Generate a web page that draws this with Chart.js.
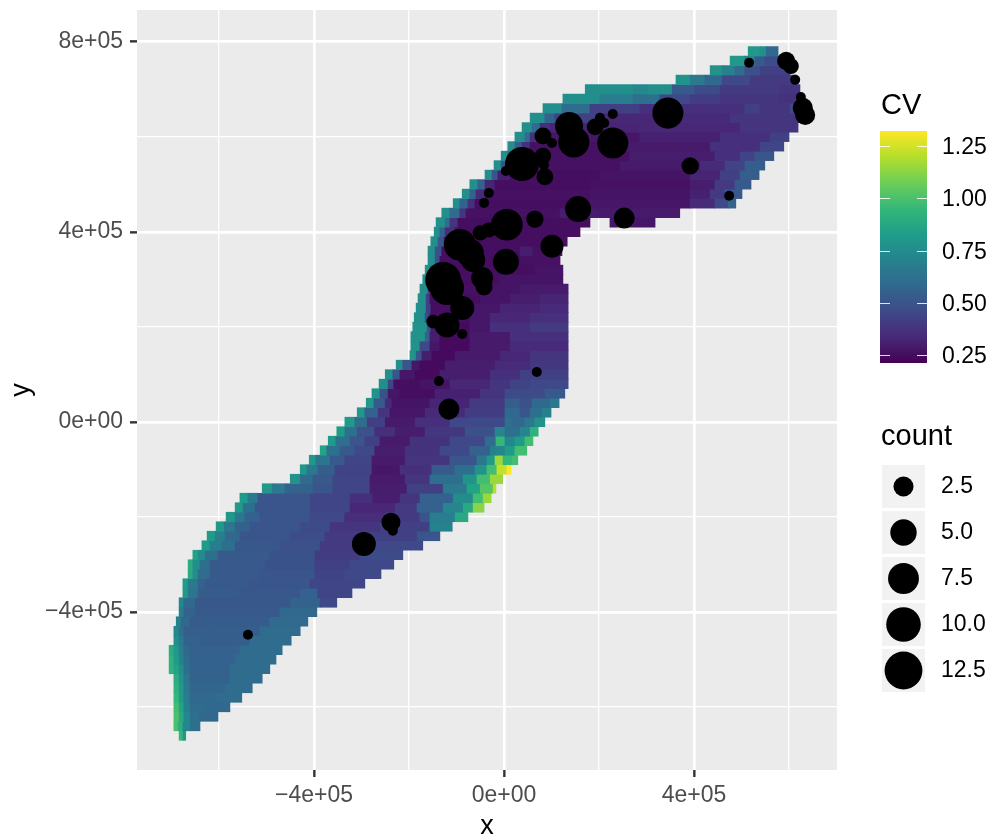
<!DOCTYPE html>
<html>
<head>
<meta charset="utf-8">
<title>CV map</title>
<script src="https://cdn.jsdelivr.net/npm/chart.js@4"></script>
<style>
  html, body { margin: 0; background: #fff; }
  canvas { display: block; }
</style>
</head>
<body>
<canvas id="mychart" width="990" height="840"></canvas>
<script>
// all x / y values are in thousands
const xMajor = [-400, 0, 400]
const xMinor = [-600, -200, 200, 600]
const xLabels = ['\u22124e+05', '0e+00', '4e+05']
const yMajor = [-400, 0, 400, 800]
const yMinor = [-600, -200, 200, 600]
const yLabels = ['\u22124e+05', '0e+00', '4e+05', '8e+05']

// raster rows, one entry per row: span edges and the CV of each span (null = gap)
const rowY = [-660,-640,-620,-600,-580,-560,-540,-520,-500,-480,-460,-440,-420,-400,-380,-360,-340,-320,-300,-280,-260,-240,-220,-200,-180,-160,-140,-120,-100,-80,-60,-40,-20,0,20,40,60,80,100,120,140,160,180,200,220,240,260,280,300,320,340,360,380,400,420,440,460,480,500,520,540,560,580,600,620,640,660,680,700,720,740,760,780]
const rowEdges = [
  [-684,-676,-670],
  [-695,-686,-676,-661,-640],
  [-695,-684,-674,-661,-640,-602],
  [-695,-684,-674,-661,-629,-577],
  [-695,-684,-674,-661,-608,-552],
  [-695,-684,-674,-661,-587,-530],
  [-695,-684,-674,-661,-577,-509],
  [-705,-695,-684,-674,-661,-577,-493],
  [-705,-695,-684,-674,-661,-566,-480],
  [-705,-695,-684,-674,-661,-556,-467],
  [-695,-684,-674,-640,-535,-448],
  [-695,-684,-674,-619,-514,-429],
  [-690,-680,-661,-493,-413],
  [-684,-674,-650,-472,-394],
  [-684,-674,-650,-450,-387,-352],
  [-676,-665,-644,-556,-429,-392,-320],
  [-676,-665,-644,-629,-535,-408,-293],
  [-665,-655,-644,-619,-514,-398,-335,-259],
  [-665,-655,-640,-619,-503,-398,-324,-232],
  [-655,-644,-629,-602,-493,-398,-303,-213],
  [-636,-619,-594,-566,-472,-387,-282,-171],
  [-625,-608,-587,-556,-450,-377,-293,-183,-135],
  [-606,-589,-566,-535,-429,-366,-261,-156,-109],
  [-585,-566,-545,-514,-408,-335,-250,-177,-156,-103,-76],
  [-566,-549,-524,-408,-324,-229,-183,-128,-86,-65,-42],
  [-556,-539,-518,-408,-324,-276,-219,-177,-107,-65,-44,-27],
  [-509,-488,-461,-402,-360,-282,-204,-128,-78,-50,-23,-17],
  [-450,-429,-402,-360,-282,-208,-156,-86,-57,-29,0],
  [-429,-415,-392,-356,-278,-219,-152,-103,-61,-36,-15,6,15],
  [-410,-396,-366,-335,-278,-208,-114,-57,-36,-19,-2,17,29],
  [-387,-373,-345,-314,-272,-208,-135,-72,-29,-15,2,23,48],
  [-370,-354,-324,-293,-261,-198,-114,-40,-17,2,23,44,61],
  [-352,-335,-309,-272,-229,-166,-82,-19,2,34,55,72],
  [-335,-314,-288,-250,-187,-114,2,17,44,65,86],
  [-309,-293,-265,-240,-166,-82,2,34,55,80,99],
  [-290,-274,-250,-236,-156,-72,2,34,59,97,116],
  [-278,-261,-244,-219,-145,-50,2,86,128],
  [-263,-244,-232,-177,-114,-29,13,55,135],
  [-250,-234,-219,-187,-135,-29,34,135],
  [-227,-213,-194,-177,-124,-19,55,135],
  [-198,-185,-173,-152,-103,-8,55,135],
  [-196,-177,-156,-135,-72,13,135],
  [-196,-166,-156,-135,-72,13,135],
  [-192,-162,-154,-141,-72,-29,55,135],
  [-189,-166,-156,-72,-29,55,135],
  [-185,-164,-154,-61,-8,76,135],
  [-181,-164,-156,-50,13,76,135],
  [-177,-160,-154,-50,34,135],
  [-171,-158,-152,-8,124],
  [-166,-154,-145,65,124],
  [-160,-145,-135,34,118],
  [-160,-145,-131,34,61,122],
  [-154,-139,-126,133],
  [-147,-135,-124,-103,160],
  [-143,-124,-114,-97,181,223,318],
  [-131,-114,-93,-80,118,202,370],
  [-107,-93,-76,-61,181,392,444,472,488],
  [-88,-72,-59,-40,181,392,434,465,501],
  [-72,-55,-40,-19,181,392,444,486,520],
  [-40,-25,-13,13,202,392,455,497,537],
  [-21,-6,4,34,244,413,465,507,549],
  [-6,8,21,55,265,444,497,528,568],
  [8,23,38,55,244,434,539,589],
  [23,44,55,76,286,455,560,600],
  [38,59,76,97,286,497,619],
  [55,86,107,202,328,476,623],
  [82,122,181,286,455,507,539,602,623],
  [124,202,272,328,392,455,581,623],
  [171,272,303,354,402,455,581,623],
  [362,392,423,459,518,615],
  [434,459,486,507,539,602],
  [476,507,528,549,587],
  [514,539,552,577]
]
const rowCV = [
  [.95,.8],
  [1,.9,.72,.62],
  [1,.88,.72,.62,.58],
  [.98,.85,.7,.6,.58],
  [.95,.82,.68,.58,.6],
  [.92,.8,.66,.57,.6],
  [.9,.78,.65,.56,.6],
  [.92,.85,.75,.62,.56,.6],
  [.92,.82,.7,.6,.55,.6],
  [.9,.8,.68,.58,.55,.6],
  [.75,.66,.56,.54,.6],
  [.72,.62,.54,.54,.6],
  [.7,.58,.53,.59],
  [.68,.56,.52,.58],
  [.72,.58,.51,.56,.45],
  [.8,.64,.53,.51,.55,.44],
  [.82,.66,.56,.52,.5,.44],
  [.88,.75,.6,.52,.5,.43,.45],
  [.9,.75,.62,.52,.49,.42,.45],
  [.85,.74,.62,.52,.49,.41,.46],
  [.82,.68,.62,.51,.48,.4,.45],
  [.82,.68,.58,.5,.47,.4,.42,.5],
  [.8,.65,.56,.5,.46,.38,.42,.7],
  [.8,.65,.55,.5,.45,.35,.4,.5,.68,.88],
  [.8,.62,.5,.44,.33,.4,.55,.72,.88,1.12],
  [.82,.66,.5,.44,.36,.3,.38,.55,.75,.98,1.15],
  [.8,.66,.56,.5,.44,.3,.42,.66,.85,1.02,1.2],
  [.78,.6,.52,.44,.29,.38,.62,.78,.98,1.15],
  [.8,.66,.54,.43,.28,.36,.52,.62,.78,.98,1.22,1.32],
  [.8,.64,.52,.44,.29,.38,.5,.65,.82,1.15,.95,.98],
  [.85,.62,.52,.45,.3,.37,.45,.55,.7,.72,.82,.98],
  [.82,.62,.5,.42,.29,.37,.45,.6,.95,.72,.82,.98],
  [.82,.62,.48,.36,.3,.39,.48,.72,.62,.72,.92],
  [.8,.6,.42,.29,.36,.45,.62,.58,.66,.78],
  [.8,.56,.38,.28,.34,.41,.58,.5,.62,.7],
  [.8,.52,.34,.27,.32,.4,.54,.48,.58,.66],
  [.78,.48,.28,.25,.31,.38,.46,.52],
  [.76,.44,.25,.27,.33,.38,.43,.45],
  [.76,.5,.28,.24,.3,.36,.42],
  [.76,.5,.28,.24,.3,.34,.39],
  [.78,.5,.3,.24,.29,.33,.38],
  [.78,.45,.28,.24,.29,.34],
  [.78,.55,.3,.24,.29,.36],
  [.78,.5,.3,.24,.28,.36,.4],
  [.76,.45,.25,.28,.33,.36],
  [.76,.42,.25,.28,.32,.34],
  [.76,.42,.25,.27,.3,.32],
  [.76,.4,.26,.27,.29],
  [.76,.38,.25,.27],
  [.78,.5,.25,.27],
  [.76,.48,.25,.26],
  [.76,.48,.25,.3,.26],
  [.76,.5,.25],
  [.76,.56,.35,.25],
  [.76,.62,.38,.25,null,.28],
  [.76,.6,.38,.26,.3,.29],
  [.76,.56,.36,.25,.28,.34,.45,.56],
  [.76,.56,.34,.26,.27,.31,.4,.52],
  [.76,.55,.32,.25,.26,.3,.4,.52],
  [.76,.5,.3,.25,.27,.32,.42,.54],
  [.76,.5,.3,.26,.29,.34,.43,.54],
  [.76,.52,.3,.26,.3,.36,.43,.5],
  [.76,.54,.36,.26,.29,.36,.44],
  [.76,.6,.36,.28,.31,.36,.42],
  [.76,.6,.36,.32,.33,.38],
  [.76,.56,.42,.33,.34,.38],
  [.76,.6,.42,.36,.36,.42,.38,.45],
  [.76,.68,.62,.45,.41,.38,.37],
  [.76,.72,.76,.52,.46,.4,.38],
  [.78,.66,.58,.45,.4],
  [.78,.7,.6,.48,.42],
  [.8,.7,.52,.46],
  [.8,.76,.58]
]

// the black points
const pointX = [38,82,101,137,147,192,202,211,229,229,345,392,474,516,594,604,613,625,629,634,82,84,86,4,-32,-42,6,65,156,101,253,-93,-72,-65,-50,-32,4,-46,-42,-128,-120,-88,-149,-120,-88,69,-137,-116,-238,-234,-295,-539]
const pointY = [543,602,587,623,589,621,640,629,648,587,650,539,476,756,760,749,720,684,661,646,560,541,516,528,482,461,415,427,448,370,429,373,356,341,398,404,337,303,284,299,282,240,211,204,185,105,86,27,-211,-229,-257,-448]
const pointCount = [9.6,1.7,1,5.8,7.6,1.7,1,1,1,7.6,7.6,1.8,1,1,2,1.5,1,1,2.5,2.5,1.6,1,1.7,1,1,1,8,1.8,4.8,3.5,2.8,8,5.8,4,1.4,1.4,4.8,3.1,1.7,11,9.6,3.9,1.2,4.3,1,1,1,2.8,2.2,1,3.9,1]

const cvTicks = [1.25, 1.00, 0.75, 0.50, 0.25]
const countTicks = [2.5, 5.0, 7.5, 10.0, 12.5]
const viridis = ['#440154','#482878','#3e4a89','#31688e','#26828e','#1f9e89','#35b779','#6ece58','#b5de2b','#fde725']
const cvMin = 0.21
const cvMax = 1.32

function cvColor(cv) {
  let t = (cv - cvMin) / (cvMax - cvMin)
  t = Math.max(0, Math.min(1, t)) * (viridis.length - 1)
  const i = Math.min(Math.floor(t), viridis.length - 2)
  const f = t - i
  const a = parseInt(viridis[i].slice(1), 16)
  const b = parseInt(viridis[i + 1].slice(1), 16)
  const mix = function (shift) {
    return Math.round(((a >> shift) & 255) * (1 - f) + ((b >> shift) & 255) * f)
  }
  return 'rgb(' + mix(16) + ',' + mix(8) + ',' + mix(0) + ')'
}

// same area scaling as the size legend
function countRadius(count) {
  return (10 + 8.2 * Math.sqrt(count - 1)) / 2
}

const rasterData = []
const rasterColors = []
rowY.forEach(function (y, r) {
  rowCV[r].forEach(function (cv, s) {
    if (cv === null) return
    rasterData.push({ x: [rowEdges[r][s], rowEdges[r][s + 1]], y: y })
    rasterColors.push(cvColor(cv))
  })
})

const bubbleData = pointX.map(function (x, i) {
  return { x: x, y: pointY[i], r: countRadius(pointCount[i]) }
})

const fontName = '"Liberation Sans", Arial, sans-serif'

function setTicks(major, minor) {
  return function (scale) {
    scale.ticks = major.concat(minor).sort(function (a, b) { return a - b }).map(function (v) {
      return { value: v }
    })
  }
}

function axisOptions(min, max, major, minor, labels, titleText, titlePadding, labelPadding) {
  const isMajor = function (ctx) { return ctx.tick && major.includes(ctx.tick.value) }
  return {
    type: 'linear',
    min: min,
    max: max,
    offset: false,
    afterBuildTicks: setTicks(major, minor),
    border: { display: false },
    grid: {
      offset: false,
      color: '#ffffff',
      lineWidth: function (ctx) { return isMajor(ctx) ? 2.7 : 1.3 },
      tickColor: function (ctx) { return isMajor(ctx) ? '#333333' : 'rgba(0,0,0,0)' },
      tickWidth: 2.4,
      tickLength: 7
    },
    ticks: {
      autoSkip: false,
      maxRotation: 0,
      color: '#4D4D4D',
      font: { family: fontName, size: 23 },
      padding: labelPadding,
      callback: function (value) {
        const i = major.indexOf(value)
        return i >= 0 ? labels[i] : ''
      }
    },
    title: {
      display: true,
      text: titleText,
      color: '#000000',
      font: { family: fontName, size: 27 },
      padding: titlePadding
    }
  }
}

const panelBackground = {
  id: 'panelBackground',
  beforeDraw: function (chart) {
    const a = chart.chartArea
    chart.ctx.save()
    chart.ctx.fillStyle = '#EBEBEB'
    chart.ctx.fillRect(a.left, a.top, a.right - a.left, a.bottom - a.top)
    chart.ctx.restore()
  }
}

const sideLegends = {
  id: 'sideLegends',
  afterDraw: function (chart) {
    const ctx = chart.ctx
    ctx.save()
    ctx.fillStyle = '#000000'
    ctx.textAlign = 'left'
    ctx.textBaseline = 'alphabetic'
    ctx.font = '29px ' + fontName
    ctx.fillText('CV', 881, 114)
    ctx.fillText('count', 881, 445)

    // colour bar
    const barTop = 131, barBottom = 363, barLeft = 880, barRight = 927
    const tickY = function (v) { return 355 - (v - 0.25) / 0.25 * 52.2 }
    const grad = ctx.createLinearGradient(0, barBottom, 0, barTop)
    viridis.forEach(function (c, i) { grad.addColorStop(i / (viridis.length - 1), c) })
    ctx.fillStyle = grad
    ctx.fillRect(barLeft, barTop, barRight - barLeft, barBottom - barTop)
    ctx.strokeStyle = 'rgba(255,255,255,0.85)'
    ctx.lineWidth = 1
    ctx.font = '23px ' + fontName
    ctx.textBaseline = 'middle'
    cvTicks.forEach(function (v) {
      const y = Math.round(tickY(v)) + 0.5
      ctx.beginPath()
      ctx.moveTo(barLeft, y); ctx.lineTo(barLeft + 10, y)
      ctx.moveTo(barRight - 10, y); ctx.lineTo(barRight, y)
      ctx.stroke()
      ctx.fillStyle = '#000000'
      ctx.fillText(v.toFixed(2), 942, y + 1)
    })

    // size legend
    countTicks.forEach(function (c, i) {
      const top = 465 + i * 46
      ctx.fillStyle = '#F2F2F2'
      ctx.fillRect(882, top, 43, 43)
      ctx.fillStyle = '#000000'
      ctx.beginPath()
      ctx.arc(903.5, top + 21.5, countRadius(c), 0, Math.PI * 2)
      ctx.fill()
      ctx.fillText(c.toFixed(1), 941, top + 22)
    })
    ctx.restore()
  }
}

const canvasforchart = document.getElementById('mychart')
new Chart(canvasforchart, {
  type: 'bubble',
  plugins: [panelBackground, sideLegends],
  data: {
    datasets: [
      {
        type: 'bubble',
        label: 'count',
        data: bubbleData,
        backgroundColor: '#000000',
        borderWidth: 0,
        order: 0
      },
      {
        type: 'bar',
        label: 'CV',
        indexAxis: 'y',
        data: rasterData,
        backgroundColor: rasterColors,
        borderWidth: 0,
        barThickness: 9.5,
        order: 1
      }
    ]
  },
  options: {
    responsive: false,
    animation: false,
    events: [],
    // bubbles would otherwise push the panel down
    layout: { autoPadding: false, padding: { top: 10, right: 153, left: 0, bottom: 0 } },
    plugins: { legend: { display: false }, tooltip: { enabled: false } },
    scales: {
      x: Object.assign(axisOptions(-772.6, 701, xMajor, xMinor, xLabels, 'x', { top: 0, bottom: -3 }, 5), {
        afterFit: function (scale) { scale.height = 70; scale.paddingLeft = 0; scale.paddingRight = 0 }
      }),
      y: Object.assign(axisOptions(-732.5, 867, yMajor, yMinor, yLabels, 'y', { top: 5, bottom: 6 }, 7), {
        afterFit: function (scale) { scale.width = 137; scale.paddingTop = 0; scale.paddingBottom = 0 }
      })
    }
  }
})
</script>
</body>
</html>
